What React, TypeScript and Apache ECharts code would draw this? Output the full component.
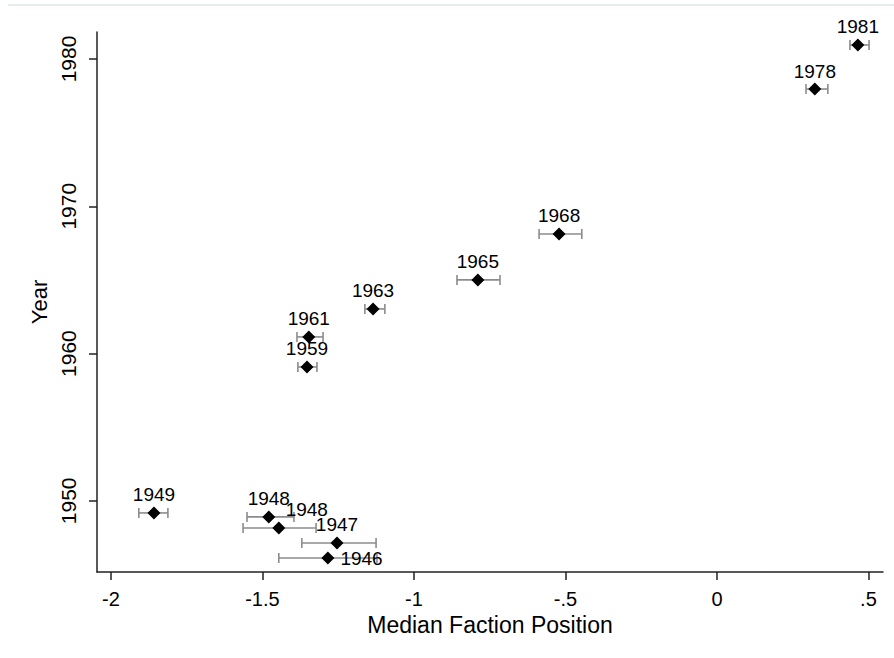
import React, { useEffect, useRef } from "react";
import * as echarts from "echarts";

const pointLabels = ["1981", "1978", "1968", "1965", "1963", "1961", "1959", "1949", "1948", "1948", "1947", "1946"];
const yearValues = [1980.95, 1977.96, 1968.12, 1965.0, 1963.03, 1961.13, 1959.09, 1949.18, 1948.91, 1948.16, 1947.14, 1946.12];
const positionValues = [0.465, 0.323, -0.521, -0.789, -1.135, -1.347, -1.353, -1.858, -1.479, -1.446, -1.254, -1.284];
const lowerValues = [0.439, 0.294, -0.587, -0.858, -1.162, -1.386, -1.383, -1.908, -1.551, -1.564, -1.37, -1.446];
const upperValues = [0.502, 0.366, -0.446, -0.716, -1.096, -1.3, -1.32, -1.812, -1.396, -1.323, -1.125, -1.122];
const xTicks = [-2, -1.5, -1, -0.5, 0, 0.5];
const xTickLabels = ["-2", "-1.5", "-1", "-.5", "0", ".5"];
const yTicks = [1950, 1960, 1970, 1980];

const FONT = "'Liberation Sans', Arial, sans-serif";

export default function App() {
  const ref = useRef<HTMLDivElement>(null);
  useEffect(() => {
    if (!ref.current) return;
    const chart = echarts.init(ref.current, null, { renderer: "svg" });
    const scatterData = positionValues.map((x, i) => {
      const item: any = { value: [x, yearValues[i]] };
      if (i === 9) item.label = { offset: [28, 0] };
      if (i === 11) item.label = { position: "right", distance: 6 };
      return item;
    });
    const barData = positionValues.map((_, i) => [lowerValues[i], yearValues[i], upperValues[i]]);
    chart.setOption({
      animation: false,
      backgroundColor: "#ffffff",
      textStyle: { fontFamily: FONT },
      grid: { left: 97, right: 11, top: 32, bottom: 86, containLabel: false },
      graphic: [
        {
          type: "line",
          shape: { x1: 8, y1: 5, x2: 894, y2: 5 },
          style: { stroke: "#e6edf0", lineWidth: 2 },
          silent: true,
        },
      ],
      xAxis: {
        type: "value",
        min: -2.046,
        max: 0.548,
        name: "Median Faction Position",
        nameLocation: "middle",
        nameGap: 32,
        nameTextStyle: { fontSize: 23, color: "#000", fontFamily: FONT },
        splitLine: { show: false },
        axisLine: { show: true, onZero: false, lineStyle: { color: "#222", width: 1.5 } },
        axisTick: { show: true, length: 8, lineStyle: { color: "#222", width: 1.5 }, customValues: xTicks },
        axisLabel: {
          fontSize: 20,
          color: "#000",
          margin: 17,
          fontFamily: FONT,
          customValues: xTicks,
          formatter: (v: number) => {
            const idx = xTicks.findIndex((t) => Math.abs(t - v) < 1e-6);
            return idx >= 0 ? xTickLabels[idx] : "";
          },
        },
      },
      yAxis: {
        type: "value",
        min: 1945.17,
        max: 1981.83,
        name: "Year",
        nameLocation: "middle",
        nameRotate: 90,
        nameGap: 45,
        nameTextStyle: { fontSize: 22, color: "#000", fontFamily: FONT },
        splitLine: { show: false },
        axisLine: { show: true, onZero: false, lineStyle: { color: "#222", width: 1.5 } },
        axisTick: { show: true, length: 8, lineStyle: { color: "#222", width: 1.5 }, customValues: yTicks },
        axisLabel: {
          fontSize: 21,
          color: "#000",
          margin: 18,
          rotate: 90,
          fontFamily: FONT,
          customValues: yTicks,
          formatter: (v: number) => String(Math.round(v)),
        },
      },
      series: [
        {
          type: "custom",
          name: "ci",
          data: barData,
          encode: { x: [0, 2], y: 1 },
          z: 1,
          renderItem: (params: any, api: any) => {
            const lo = api.value(0);
            const y = api.value(1);
            const hi = api.value(2);
            const p1 = api.coord([lo, y]);
            const p2 = api.coord([hi, y]);
            const h = 5;
            const style = { stroke: "#8c8c8c", lineWidth: 1.6 };
            return {
              type: "group",
              children: [
                { type: "line", shape: { x1: p1[0], y1: p1[1], x2: p2[0], y2: p2[1] }, style },
                { type: "line", shape: { x1: p1[0], y1: p1[1] - h, x2: p1[0], y2: p1[1] + h }, style },
                { type: "line", shape: { x1: p2[0], y1: p2[1] - h, x2: p2[0], y2: p2[1] + h }, style },
              ],
            };
          },
        },
        {
          type: "scatter",
          name: "median",
          data: scatterData,
          symbol: "diamond",
          symbolSize: [13, 13],
          z: 3,
          itemStyle: { color: "#000", opacity: 1 },
          label: {
            show: true,
            position: "top",
            distance: 2,
            fontSize: 19,
            color: "#000",
            fontFamily: FONT,
            formatter: (p: any) => pointLabels[p.dataIndex],
          },
        },
      ],
    });
    return () => chart.dispose();
  }, []);
  return (
    <div
      ref={ref}
      style={{ position: "absolute", left: 0, top: 0, width: 894, height: 658, background: "#fff" }}
    />
  );
}
